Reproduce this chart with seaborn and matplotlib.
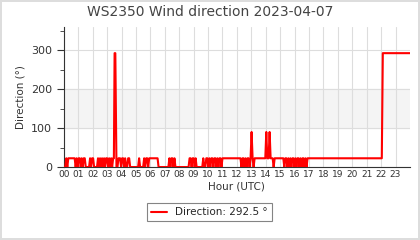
import matplotlib
matplotlib.use("Agg")
import matplotlib.pyplot as plt
import seaborn as sns
import pandas as pd
from matplotlib.ticker import MultipleLocator

# Data (hour of day, wind direction in degrees)
hours = [0.00, 0.10, 0.17, 0.24, 0.31, 0.75, 0.82, 0.89, 0.96, 1.03, 1.10, 1.17, 1.24, 1.31,
         1.38, 1.45, 1.52, 1.75, 1.82, 1.89, 1.96, 2.03, 2.10, 2.30, 2.37, 2.44, 2.51, 2.58,
         2.65, 2.72, 2.79, 2.86, 2.93, 3.00, 3.07, 3.14, 3.21, 3.28, 3.35, 3.42, 3.47, 3.52,
         3.57, 3.65, 3.72, 3.79, 3.90, 3.97, 4.04, 4.11, 4.18, 4.25, 4.32, 4.39, 4.46, 4.53,
         4.60, 4.67, 5.15, 5.22, 5.29, 5.36, 5.50, 5.57, 5.64, 5.71, 5.78, 5.85, 5.92, 6.00,
         6.50, 6.57, 7.25, 7.32, 7.39, 7.46, 7.53, 7.60, 7.67, 7.74, 8.65, 8.72, 8.79, 8.86,
         8.93, 9.00, 9.07, 9.14, 9.21, 9.60, 9.67, 9.74, 9.81, 9.88, 9.95, 10.02, 10.09, 10.16,
         10.23, 10.30, 10.37, 10.44, 10.51, 10.58, 10.65, 10.72, 10.79, 10.86, 10.93, 11.00,
         12.25, 12.32, 12.39, 12.46, 12.53, 12.60, 12.67, 12.74, 12.81, 12.88, 12.95, 13.02,
         13.09, 13.16, 13.23, 13.30, 13.90, 13.97, 14.04, 14.11, 14.20, 14.27, 14.34, 14.41,
         14.48, 14.55, 14.62, 14.69, 15.15, 15.22, 15.29, 15.36, 15.43, 15.50, 15.57, 15.64,
         15.71, 15.78, 15.85, 15.92, 15.99, 16.06, 16.13, 16.20, 16.27, 16.34, 16.41, 16.48,
         16.55, 16.62, 16.69, 16.76, 16.83, 16.90, 16.97, 22.05, 22.12, 24.00]
direction = [0.0, 0.0, 22.5, 0.0, 22.5, 22.5, 0.0, 22.5, 0.0, 22.5, 22.5, 0.0, 22.5, 0.0,
             22.5, 22.5, 0.0, 0.0, 22.5, 0.0, 22.5, 22.5, 0.0, 0.0, 22.5, 0.0, 22.5, 0.0,
             22.5, 0.0, 22.5, 0.0, 22.5, 22.5, 0.0, 22.5, 0.0, 22.5, 0.0, 22.5, 22.5, 292.5,
             292.5, 0.0, 0.0, 22.5, 22.5, 0.0, 22.5, 22.5, 0.0, 22.5, 0.0, 0.0, 22.5, 22.5,
             0.0, 0.0, 0.0, 22.5, 0.0, 0.0, 0.0, 22.5, 0.0, 22.5, 22.5, 0.0, 22.5, 22.5,
             22.5, 0.0, 0.0, 22.5, 0.0, 22.5, 22.5, 0.0, 22.5, 0.0, 0.0, 22.5, 22.5, 0.0,
             22.5, 22.5, 0.0, 22.5, 0.0, 0.0, 22.5, 0.0, 0.0, 22.5, 22.5, 0.0, 22.5, 0.0,
             22.5, 22.5, 0.0, 22.5, 22.5, 0.0, 22.5, 0.0, 22.5, 22.5, 0.0, 22.5,
             22.5, 0.0, 22.5, 22.5, 0.0, 22.5, 0.0, 22.5, 22.5, 0.0, 22.5, 90.0,
             22.5, 0.0, 22.5, 22.5, 22.5, 22.5, 90.0, 22.5, 22.5, 90.0, 22.5, 22.5,
             22.5, 0.0, 22.5, 22.5, 22.5, 22.5, 0.0, 22.5, 22.5, 0.0, 22.5, 0.0,
             22.5, 0.0, 22.5, 22.5, 0.0, 22.5, 0.0, 22.5, 22.5, 0.0, 22.5, 0.0,
             22.5, 22.5, 0.0, 22.5, 0.0, 22.5, 22.5, 22.5, 292.5, 292.5]
hour_labels = [f"{h:02d}" for h in range(24)]
title = "WS2350 Wind direction 2023-04-07"
legend_label = "Direction: 292.5 °"

df = pd.DataFrame({"hour": hours, "direction": direction})

sns.set_style("white")
plt.rcParams["font.family"] = ["DejaVu Sans"]

fig = plt.figure(figsize=(4.2, 2.4), dpi=100)
fig.patch.set_edgecolor("#dddddd")
fig.patch.set_linewidth(1.5)
ax = fig.add_axes([0.152, 0.304, 0.824, 0.584])

ax.axhspan(100, 200, color="#f4f4f4", zorder=0)
sns.lineplot(data=df, x="hour", y="direction", ax=ax, color="#ff0000",
             linewidth=1.5, label=legend_label, zorder=3)

ax.set_xlim(0, 24)
ax.set_ylim(0, 360)
ax.set_xticks(range(24))
ax.set_xticklabels(hour_labels, fontsize=6.5, color="#333333")
ax.set_yticks([0, 100, 200, 300])
ax.yaxis.set_minor_locator(MultipleLocator(50))
ax.tick_params(axis="y", which="major", length=5, labelsize=8, labelcolor="#333333",
               color="#333333", left=True)
ax.tick_params(axis="y", which="minor", length=3, color="#333333", left=True)
ax.tick_params(axis="x", length=0, pad=2)
ax.grid(True, color="#dddddd", linewidth=0.8, zorder=1)
ax.set_axisbelow(True)
for s in ["top", "right"]:
    ax.spines[s].set_visible(False)
ax.spines["left"].set_color("#333333")
ax.spines["bottom"].set_color("#333333")
ax.set_xlabel("Hour (UTC)", fontsize=7.5, color="#333333", labelpad=2)
ax.set_ylabel("Direction (°)", fontsize=7.5, color="#333333")
fig.text(0.5, 1 - 12 / 240, title, fontsize=10, color="#444444", ha="center", va="center")

leg = ax.legend(loc="upper center", bbox_to_anchor=(0.42, -0.22), frameon=True,
                fancybox=False, edgecolor="#666666", fontsize=7.5, handlelength=1.5,
                borderpad=0.4)
leg.get_frame().set_linewidth(0.8)

fig.savefig("out.png", dpi=100, edgecolor=fig.get_edgecolor())
